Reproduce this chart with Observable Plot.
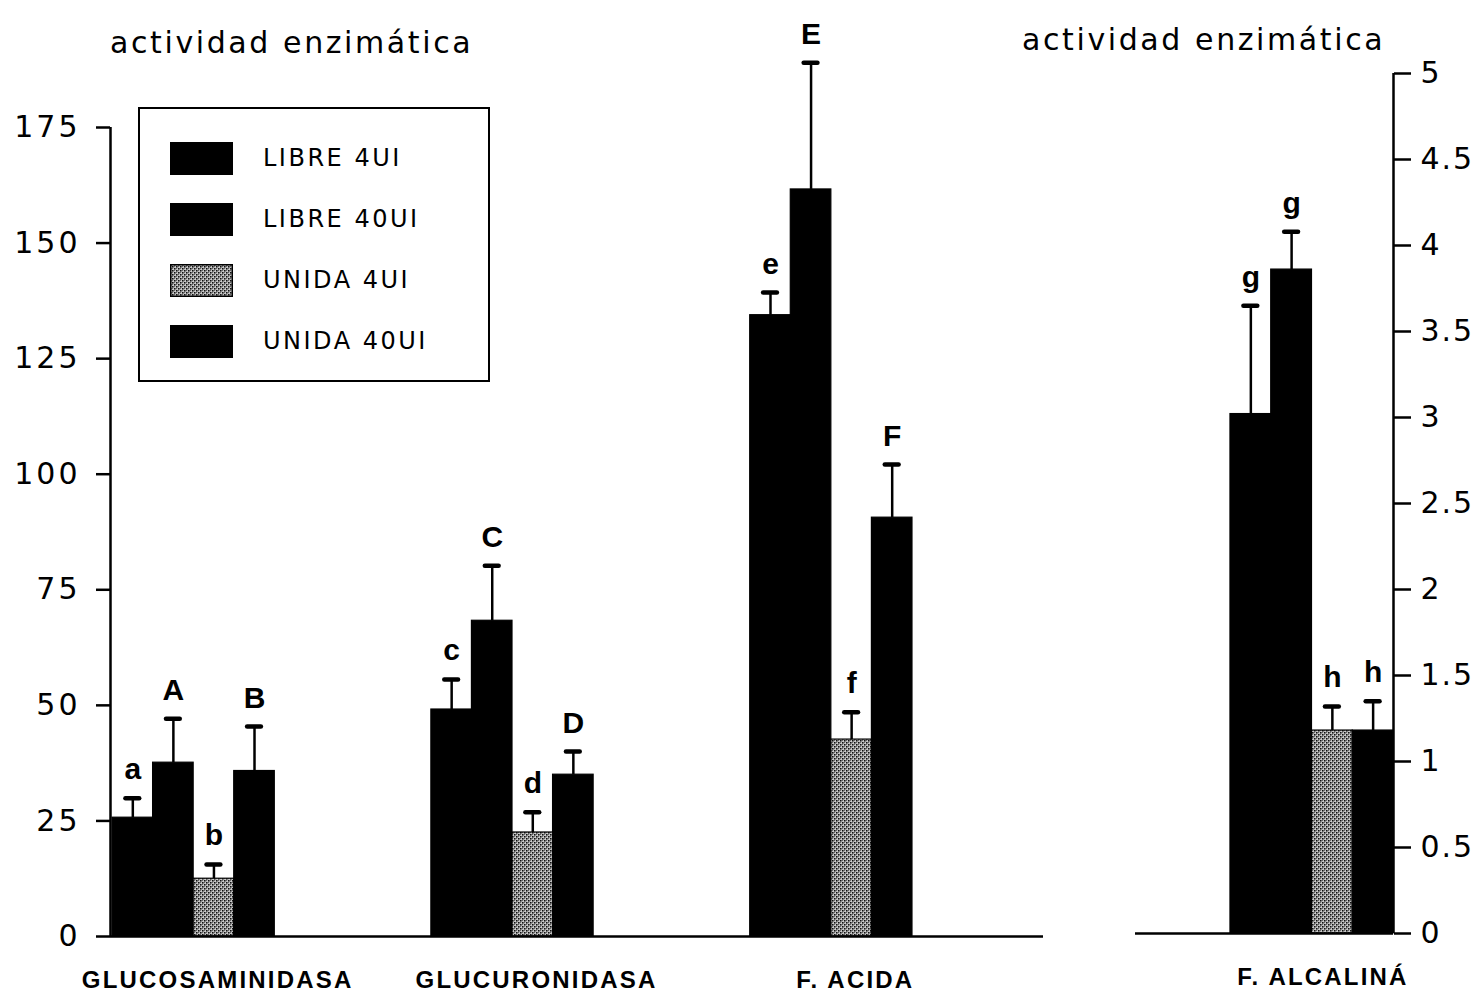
<!DOCTYPE html>
<html>
<head>
<meta charset="utf-8">
<script src="https://cdn.jsdelivr.net/npm/d3@7"></script>
<script src="https://cdn.jsdelivr.net/npm/@observablehq/plot@0.6"></script>
<style>
  body { margin: 0; background: #fff; }
  #wrap { position: relative; width: 1482px; height: 994px; overflow: hidden; background: #fff; font-family: "DejaVu Sans", sans-serif; color: #000; }
  #left { position: absolute; left: 0; top: 0; }
  #right { position: absolute; left: 1100px; top: 0; }
  .ttl { position: absolute; font-size: 30px; letter-spacing: 2.6px; white-space: nowrap; line-height: 1; }
  #legend { position: absolute; left: 138px; top: 107px; width: 352px; height: 275px; border: 2px solid #000; box-sizing: border-box; }
  .row { position: absolute; left: 30px; height: 34px; display: flex; align-items: center; }
  .row svg { display: block; }
  .row span { margin-left: 30px; font-size: 24px; letter-spacing: 2.5px; white-space: nowrap; }
  .ytick text { letter-spacing: 3px; }
  .ytickR text { letter-spacing: 2px; }
  .cat text { letter-spacing: 2.2px; }
</style>
</head>
<body>
<svg width="0" height="0" style="position:absolute">
  <defs>
    <pattern id="stip" width="4" height="4" patternUnits="userSpaceOnUse">
      <rect width="4" height="4" fill="#d4d4d4"/>
      <rect x="0" y="0" width="1.6" height="1.6" fill="#111"/>
      <rect x="2" y="2" width="1.6" height="1.6" fill="#111"/>
      <rect x="2" y="0" width="1.2" height="1.2" fill="#666"/>
      <rect x="0" y="2" width="1.2" height="1.2" fill="#666"/>
    </pattern>
  </defs>
</svg>
<div id="wrap">
  <div class="ttl" style="left:110px; top:28px;">actividad enzimática</div>
  <div class="ttl" style="left:1022px; top:25px;">actividad enzimática</div>
  <div id="left"></div>
  <div id="right"></div>
  <div id="legend"></div>
</div>
<script>
// ---- data ----
const series = ["LIBRE 4UI", "LIBRE 40UI", "UNIDA 4UI", "UNIDA 40UI"];
const seriesFill = ["#000", "#000", "url(#stip)", "#000"];

const groupsLeft = ["GLUCOSAMINIDASA", "GLUCURONIDASA", "F. ACIDA"];
const groupsRight = ["F. ALCALINÁ"];

const glucosaminidasaValues = [25.7, 37.6, 12.5, 35.8];
const glucosaminidasaErrors = [4.2, 9.5, 3.1, 9.6];
const glucosaminidasaLetters = ["a", "A", "b", "B"];

const glucuronidasaValues = [49.1, 68.3, 22.5, 35.0];
const glucuronidasaErrors = [6.5, 11.9, 4.4, 5.0];
const glucuronidasaLetters = ["c", "C", "d", "D"];

const acidaValues = [134.4, 161.6, 42.6, 90.6];
const acidaErrors = [4.9, 27.4, 5.9, 11.5];
const acidaLetters = ["e", "E", "f", "F"];

const alcalinaValues = [3.02, 3.86, 1.18, 1.18];
const alcalinaErrors = [0.63, 0.22, 0.14, 0.17];
const alcalinaLetters = ["g", "g", "h", "h"];

const leftTicks = [0, 25, 50, 75, 100, 125, 150, 175];
const rightTicks = [0, 0.5, 1, 1.5, 2, 2.5, 3, 3.5, 4, 4.5, 5];

// ---- build rows ----
const GROUP_STEP = 7.86; // group spacing in bar-width units
function rows(group, gi, values, errors, letters) {
  return values.map((v, si) => ({
    group, gi, si, series: series[si], value: v, err: errors[si], letter: letters[si],
    top: v + errors[si]
  }));
}
const leftData = [
  ...rows(groupsLeft[0], 0, glucosaminidasaValues, glucosaminidasaErrors, glucosaminidasaLetters),
  ...rows(groupsLeft[1], 1, glucuronidasaValues, glucuronidasaErrors, glucuronidasaLetters),
  ...rows(groupsLeft[2], 2, acidaValues, acidaErrors, acidaLetters)
];
const rightData = rows(groupsRight[0], 0, alcalinaValues, alcalinaErrors, alcalinaLetters);

const x1 = d => d.gi * GROUP_STEP + d.si;
const x2 = d => d.gi * GROUP_STEP + d.si + 1;
const xc = d => d.gi * GROUP_STEP + d.si + 0.5;
const capL = d => xc(d) - 0.17;
const capR = d => xc(d) + 0.17;

const colorScale = {domain: series, range: seriesFill};
const letterFont = {fontSize: 30, fontWeight: "bold", fontFamily: "Liberation Sans, Arial, sans-serif"};

function barMarks(data) {
  return [
    Plot.rect(data, {x1, x2, y1: 0, y2: "value", fill: "series", stroke: "#000", strokeWidth: 1.2}),
    Plot.ruleX(data, {x: xc, y1: "value", y2: "top", stroke: "#000", strokeWidth: 2.5}),
    Plot.ruleY(data, {y: "top", x1: capL, x2: capR, stroke: "#000", strokeWidth: 4.5, strokeLinecap: "round"}),
    Plot.text(data, {x: xc, y: "top", text: "letter", lineAnchor: "bottom", dy: -19, fill: "#000", ...letterFont})
  ];
}

const groupLabelsLeft = groupsLeft.map((g, gi) => ({g, x: gi * GROUP_STEP + 2}));
const groupLabelsRight = groupsRight.map((g, gi) => ({g, x: gi * GROUP_STEP + 2}));
const catFont = {fontSize: 24, fontWeight: "bold", fontFamily: "Liberation Sans, Arial, sans-serif", className: "cat"};

const leftPlot = Plot.plot({
  width: 1060, height: 994,
  marginLeft: 110, marginRight: 17, marginTop: 127, marginBottom: 58,
  style: {fontFamily: "DejaVu Sans, sans-serif", fontSize: "30px", color: "#000", background: "transparent"},
  x: {domain: [-0.05, 22.95], axis: null},
  y: {domain: [0, 175], axis: null},
  color: colorScale,
  marks: [
    Plot.axisY({ticks: leftTicks, tickSize: 14, tickPadding: 16, strokeWidth: 2.5, fontSize: 30, className: "ytick", tickFormat: d => String(d)}),
    Plot.ruleX([-0.05], {stroke: "#000", strokeWidth: 2.5}),
    ...barMarks(leftData),
    Plot.ruleY([0], {stroke: "#000", strokeWidth: 2.5}),
    Plot.text(groupLabelsLeft, {x: "x", y: () => 0, text: "g", dy: 44, dx: 24, ...catFont})
  ]
});
document.getElementById("left").appendChild(leftPlot);

const rightPlot = Plot.plot({
  width: 382, height: 994,
  marginLeft: 35, marginRight: 89, marginTop: 73, marginBottom: 61,
  style: {fontFamily: "DejaVu Sans, sans-serif", fontSize: "30px", color: "#000", background: "transparent"},
  x: {domain: [-2.33, 4.0], axis: null},
  y: {domain: [0, 5], axis: null},
  color: colorScale,
  marks: [
    Plot.axisY({anchor: "right", ticks: rightTicks, tickSize: 17, tickPadding: 10, strokeWidth: 2.5, fontSize: 30, className: "ytickR", tickFormat: d => String(d)}),
    Plot.ruleX([4.0], {stroke: "#000", strokeWidth: 2.5}),
    ...barMarks(rightData),
    Plot.ruleY([0], {stroke: "#000", strokeWidth: 2.5}),
    Plot.text(groupLabelsRight, {x: "x", y: () => 0, text: "g", dy: 44, dx: 11, ...catFont})
  ]
});
document.getElementById("right").appendChild(rightPlot);

// ---- legend ----
const legend = document.getElementById("legend");
series.forEach((s, i) => {
  const row = document.createElement("div");
  row.className = "row";
  row.style.top = (32 + i * 61) + "px";
  row.innerHTML = `<svg width="63" height="33"><rect x="0.75" y="0.75" width="61.5" height="31.5" fill="${seriesFill[i]}" stroke="#000" stroke-width="1.5"/></svg><span>${s}</span>`;
  legend.appendChild(row);
});
</script>
</body>
</html>
